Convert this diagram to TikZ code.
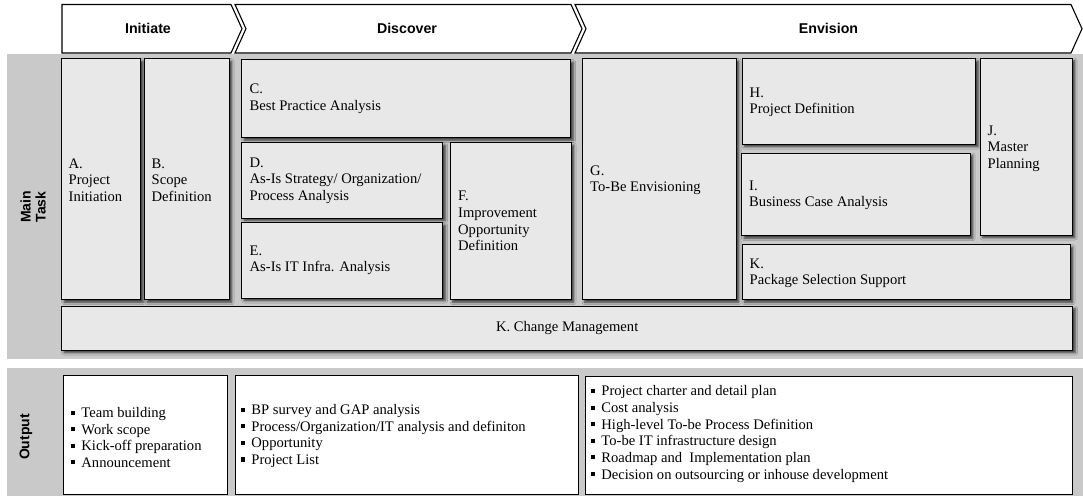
\documentclass[tikz,border=0pt]{standalone}
\usepackage{fontspec}
\setmainfont{Liberation Serif}
\newfontfamily\hdfont{Liberation Sans}
\usetikzlibrary{shadows.blur}
\definecolor{panelgray}{HTML}{C9C9C9}
\definecolor{taskfill}{HTML}{E8E8E8}
% small square bullet for the output lists
\newcommand\bulletsq{\raisebox{0.2em}{\rule{0.28em}{0.28em}}\hspace{0.42em}}
% task box from its top-left (x1,y1) to bottom-right (x2,y2)
\newcommand\tbox[5]{\node[taskbox, minimum width={#4-#2}, minimum height={#5-#3}] (#1) at (#2,#3) {};}
\newcommand\obox[5]{\node[outbox, minimum width={#4-#2}, minimum height={#5-#3}] (#1) at (#2,#3) {};}
\begin{document}
\begin{tikzpicture}[x=1pt, y=-1pt, font=\fontsize{14.6}{16.6}\selectfont,
  panel/.style={fill=panelgray, draw=none},
  phase/.style={draw=black, line width=1.1pt, fill=white, line join=miter},
  phasetext/.style={font=\hdfont\bfseries\fontsize{14.2}{16}\selectfont, inner sep=0pt},
  taskbox/.style={draw=black, line width=1.3pt, fill=taskfill, inner sep=0pt, anchor=north west,
    blur shadow={shadow xshift=2.5pt, shadow yshift=-2.5pt, shadow blur radius=2.5pt, shadow opacity=75}},
  tasktext/.style={anchor=west, align=left, inner sep=0pt},
  outbox/.style={draw=black, line width=0.8pt, fill=white, inner sep=0pt, anchor=north west},
  outtext/.style={anchor=west, align=left, inner sep=0pt},
  sidelabel/.style={font=\hdfont\bfseries\fontsize{14}{15}\selectfont, rotate=90, align=center, inner sep=0pt}]
\useasboundingbox (0,0) rectangle (1083,496);

% background panels
\fill[panel] (6.5,54) rectangle (1083,359);
\fill[panel] (6.5,368) rectangle (1083,496);

% phase chevrons
\draw[phase] (62,4.5) -- (231,4.5) -- (242,28.75) -- (231,53) -- (62,53) -- cycle;
\draw[phase] (235,4.5) -- (571,4.5) -- (582,28.75) -- (571,53) -- (235,53) -- (246,28.75) -- cycle;
\draw[phase] (575,4.5) -- (1071,4.5) -- (1082,28.75) -- (1071,53) -- (575,53) -- (586,28.75) -- cycle;
\node[phasetext] (ph1) at (148,28.75) {Initiate};
\node[phasetext] (ph2) at (407,28.75) {Discover};
\node[phasetext] (ph3) at (828.5,28.75) {Envision};

% row labels
\node[sidelabel] (rowmain) at (33,207) {Main\\Task};
\node[sidelabel] (rowout) at (26,437) {Output};

% main tasks
\tbox{A}{61}{58}{140}{299}
\tbox{B}{144}{58}{228.5}{299}
\tbox{C}{241}{59}{570}{137}
\tbox{D}{241}{142}{442}{217.5}
\tbox{E}{241}{222}{442}{297.5}
\tbox{F}{449.5}{142}{570.5}{299}
\tbox{G}{581.5}{58}{735.5}{299}
\tbox{H}{741.5}{58}{975}{143.5}
\tbox{I}{741}{152.5}{969.5}{235}
\tbox{J}{979.5}{57.5}{1071.5}{234.5}
\tbox{Kp}{741.5}{244}{1069.5}{299}
\node[taskbox, minimum width=1011, minimum height=44] (CM) at (61,305.5) {K. Change Management};

\node[tasktext] (At) at ([xshift=7.5pt,yshift=-1pt]A.west) {A.\\Project\\Initiation};
\node[tasktext] (Bt) at ([xshift=7.5pt,yshift=-1pt]B.west) {B.\\Scope\\Definition};
\node[tasktext] (Ct) at ([xshift=8.5pt]C.west) {C.\\Best Practice Analysis};
\node[tasktext] (Dt) at ([xshift=8.5pt]D.west) {D.\\As-Is Strategy/ Organization/\\Process Analysis};
\node[tasktext] (Et) at ([xshift=8.5pt]E.west) {E.\\As-Is IT Infra. Analysis};
\node[tasktext] (Ft) at ([xshift=8.5pt]F.west) {F.\\Improvement\\Opportunity\\Definition};
\node[tasktext] (Gt) at ([xshift=8.5pt,yshift=-1pt]G.west) {G.\\To-Be Envisioning};
\node[tasktext] (Ht) at ([xshift=8pt,yshift=-1pt]H.west) {H.\\Project Definition};
\node[tasktext] (It) at ([xshift=8pt,yshift=-1pt]I.west) {I.\\Business Case Analysis};
\node[tasktext] (Jt) at ([xshift=8pt,yshift=-2pt]J.west) {J.\\Master\\Planning};
\node[tasktext] (Kt) at ([xshift=8pt,yshift=-1pt]Kp.west) {K.\\Package Selection Support};

% outputs
\obox{O1}{62.5}{374.5}{226.5}{494}
\obox{O2}{235}{375}{577.5}{494}
\obox{O3}{584.5}{376}{1072}{493.5}

\node[outtext] (O1t) at (71,437.5) {\bulletsq Team building\\\bulletsq Work scope\\\bulletsq Kick-off preparation\\\bulletsq Announcement};
\node[outtext] (O2t) at (241,436) {\bulletsq BP survey and GAP analysis\\\bulletsq Process/Organization/IT analysis and definiton\\\bulletsq Opportunity\\\bulletsq Project List};
\node[outtext] (O3t) at (591,434) {\bulletsq Project charter and detail plan\\\bulletsq Cost analysis\\\bulletsq High-level To-be Process Definition\\\bulletsq To-be IT infrastructure design\\\bulletsq Roadmap and\ \ Implementation plan\\\bulletsq Decision on outsourcing or inhouse development};
\end{tikzpicture}
\end{document}
